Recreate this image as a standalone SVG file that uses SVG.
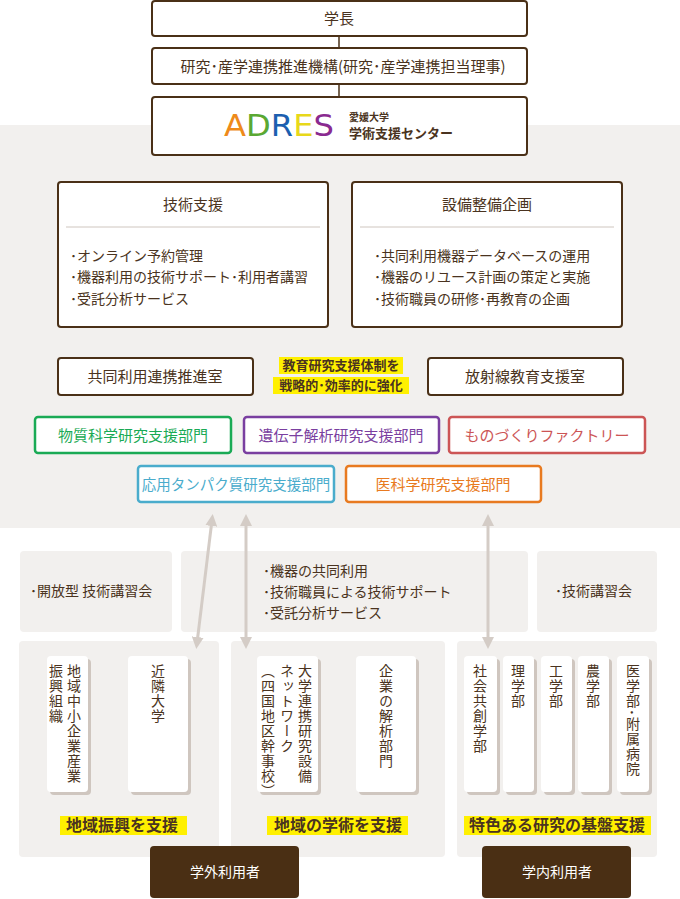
<svg xmlns="http://www.w3.org/2000/svg" width="680" height="899" viewBox="0 0 680 899">
<style>
text{font-family:"Noto Sans CJK JP","Noto Sans",sans-serif;fill:#4a3320}
.b{fill:#fff;stroke:#4a3017;stroke-width:2}
.t{font-size:15px;text-anchor:middle}
.l{font-size:14px}
.c{fill:#fff;stroke:none}
.v{font-size:14px;writing-mode:vertical-rl;letter-spacing:1px}
.h{fill:#fff000}
.hl{font-size:16px;font-weight:bold;text-anchor:middle}
.p{fill:#f2f0ee}
.cb{fill:#fff;stroke-width:2.5}
.a{stroke:#d4ccc6;stroke-width:3;fill:none;marker-start:url(#m);marker-end:url(#m)}
</style>
<defs>
<marker id="m" viewBox="0 0 10 10" refX="5" refY="5" markerWidth="4" markerHeight="4" orient="auto-start-reverse"><path d="M0,0L10,5L0,10z" fill="#d4ccc6"/></marker>
<filter id="sh" x="-10%" y="-10%" width="130%" height="130%"><feDropShadow dx="3" dy="3" stdDeviation="0" flood-color="#cfc6bf"/></filter>
</defs>
<rect x="0" y="125" width="680" height="403" class="p"/>
<g id="top">
<line x1="339" y1="36" x2="339" y2="97" stroke="#4a3017" stroke-width="1.5"/>
<g id="n1"><rect class="b" x="152" y="1" width="375" height="35" rx="3"/><text class="t" x="339" y="24">学長</text></g>
<g id="n2"><rect class="b" x="152" y="48" width="375" height="36" rx="3"/><text class="t" x="343" y="72">研究･産学連携推進機構(研究･産学連携担当理事)</text></g>
<g id="n3"><rect class="b" x="152" y="97" width="375" height="58" rx="3"/>
<text x="224" y="136" font-size="31" style="font-family:'DejaVu Sans',sans-serif" textLength="110" lengthAdjust="spacingAndGlyphs"><tspan style="fill:#ee8a1a">A</tspan><tspan style="fill:#5aa832">D</tspan><tspan style="fill:#1c5fb0">R</tspan><tspan style="fill:#e8d81a">E</tspan><tspan style="fill:#8a2a90">S</tspan></text>
<text x="349" y="121" font-size="10" font-weight="bold">愛媛大学</text>
<text x="349" y="138" font-size="13" font-weight="bold">学術支援センター</text></g>
</g>
<g id="gijutsu"><rect class="b" x="58" y="182" width="270" height="145" rx="3"/>
<text class="t" x="193" y="210" font-size="16">技術支援</text>
<line x1="66" y1="227" x2="320" y2="227" stroke="#cfc6bf"/>
<text class="l" x="70" y="261">･オンライン予約管理</text><text class="l" x="70" y="282">･機器利用の技術サポート･利用者講習</text><text class="l" x="70" y="304">･受託分析サービス</text></g>
<g id="setsubi"><rect class="b" x="352" y="182" width="270" height="145" rx="3"/>
<text class="t" x="487" y="210" font-size="16">設備整備企画</text>
<line x1="360" y1="227" x2="614" y2="227" stroke="#cfc6bf"/>
<text class="l" x="374" y="261">･共同利用機器データベースの運用</text><text class="l" x="374" y="282">･機器のリユース計画の策定と実施</text><text class="l" x="374" y="304">･技術職員の研修･再教育の企画</text></g>
<g id="kyodo"><rect class="b" x="58" y="358" width="195" height="37" rx="3"/><text class="t" x="155" y="382">共同利用連携推進室</text></g>
<g id="hoshasen"><rect class="b" x="428" y="358" width="195" height="37" rx="3"/><text class="t" x="525" y="382">放射線教育支援室</text></g>
<g id="kyoka"><rect class="h" x="279" y="357" width="124" height="17"/><rect class="h" x="273" y="377" width="136" height="17"/>
<text class="hl" x="341" y="370" font-size="13" style="font-size:13px">教育研究支援体制を</text><text class="hl" x="341" y="390" style="font-size:13px">戦略的･効率的に強化</text></g>
<g id="d1"><rect class="cb" stroke="#1aaa55" x="35" y="417" width="196" height="36" rx="3"/><text class="t" x="133" y="441" style="fill:#1aaa55">物質科学研究支援部門</text></g>
<g id="d2"><rect class="cb" stroke="#7a3fa0" x="244" y="417" width="195" height="36" rx="3"/><text class="t" x="341" y="441" style="fill:#7a3fa0">遺伝子解析研究支援部門</text></g>
<g id="d3"><rect class="cb" stroke="#cc5555" x="449" y="417" width="196" height="36" rx="3"/><text class="t" x="547" y="441" style="fill:#cc5555">ものづくりファクトリー</text></g>
<g id="d4"><rect class="cb" stroke="#4aaccc" x="138" y="466" width="196" height="36" rx="3"/><text class="t" x="236" y="490" style="fill:#4aaccc;font-size:14.5px">応用タンパク質研究支援部門</text></g>
<g id="d5"><rect class="cb" stroke="#e87a20" x="346" y="466" width="195" height="36" rx="3"/><text class="t" x="443" y="490" style="fill:#e87a20">医科学研究支援部門</text></g>
<g id="services">
<rect class="p" x="20" y="551" width="152" height="81" rx="4"/><text class="l" x="30" y="596">･開放型 技術講習会</text>
<rect class="p" x="181" y="551" width="347" height="81" rx="4"/><text class="l" x="263" y="576">･機器の共同利用</text><text class="l" x="263" y="597">･技術職員による技術サポート</text><text class="l" x="263" y="618">･受託分析サービス</text>
<rect class="p" x="537" y="551" width="120" height="81" rx="4"/><text class="l" x="555" y="596">･技術講習会</text>
</g>
<g id="gai1"><rect class="p" x="19" y="641" width="200" height="216" rx="4"/>
<rect class="c" filter="url(#sh)" x="47" y="656" width="41" height="136" rx="4"/><rect class="c" filter="url(#sh)" x="128" y="656" width="60" height="136" rx="4"/>
<text class="v" x="74" y="664">地域中小企業産業</text><text class="v" x="56" y="664">振興組織</text><text class="v" x="158" y="664">近隣大学</text>
<rect class="h" x="60" y="816" width="127" height="19"/><text class="hl" x="122" y="831">地域振興を支援</text></g>
<g id="gai2"><rect class="p" x="231" y="641" width="214" height="216" rx="4"/>
<rect class="c" filter="url(#sh)" x="257" y="656" width="61" height="136" rx="4"/><rect class="c" filter="url(#sh)" x="356" y="656" width="60" height="136" rx="4"/>
<text class="v" x="305" y="664">大学連携研究設備</text><text class="v" x="287" y="664">ネットワーク</text><text class="v" x="268" y="664">（四国地区幹事校）</text><text class="v" x="386" y="664">企業の解析部門</text>
<rect class="h" x="267" y="816" width="141" height="19"/><text class="hl" x="338" y="831">地域の学術を支援</text></g>
<g id="nai"><rect class="p" x="457" y="641" width="200" height="216" rx="4"/>
<rect class="c" filter="url(#sh)" x="464" y="656" width="33" height="136" rx="4"/><rect class="c" filter="url(#sh)" x="503" y="656" width="31" height="136" rx="4"/><rect class="c" filter="url(#sh)" x="541" y="656" width="31" height="136" rx="4"/><rect class="c" filter="url(#sh)" x="578" y="656" width="31" height="136" rx="4"/><rect class="c" filter="url(#sh)" x="617" y="656" width="32" height="136" rx="4"/>
<text class="v" x="480" y="664">社会共創学部</text><text class="v" x="518" y="664">理学部</text><text class="v" x="556" y="664">工学部</text><text class="v" x="593" y="664">農学部</text><text class="v" x="633" y="664">医学部･附属病院</text>
<rect class="h" x="464" y="816" width="187" height="19"/><text class="hl" x="557" y="831">特色ある研究の基盤支援</text></g>
<g id="users">
<rect x="150" y="846" width="149" height="52" rx="4" fill="#4a2f14"/><text class="t" x="225" y="877" style="fill:#fff;font-size:14px">学外利用者</text>
<rect x="482" y="846" width="149" height="52" rx="4" fill="#4a2f14"/><text class="t" x="557" y="877" style="fill:#fff;font-size:14px">学内利用者</text>
</g>
<g id="connectors">
<line class="a" x1="212" y1="520" x2="197" y2="643"/>
<line class="a" x1="246" y1="520" x2="246" y2="643"/>
<line class="a" x1="488" y1="520" x2="488" y2="643"/>
</g>
</svg>
